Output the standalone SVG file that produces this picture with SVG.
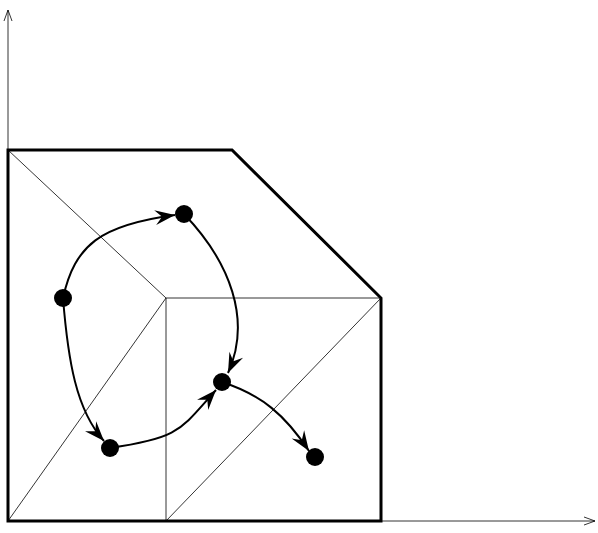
<svg xmlns="http://www.w3.org/2000/svg" width="598" height="533" viewBox="0 0 598 533">
<style>
.thin{fill:none;stroke:#000;stroke-width:0.8}
.thick{fill:none;stroke:#000;stroke-width:3}
.axis{fill:none;stroke:#000;stroke-width:0.8}
.edge{fill:none;stroke:#000;stroke-width:2;marker-end:url(#ah)}
.node{fill:#000}
</style>
<defs>
<marker id="ah" viewBox="-22 -9 24 18" refX="0" refY="0" markerWidth="24" markerHeight="18" markerUnits="userSpaceOnUse" orient="auto">
<path d="M0,0 L-20,-7.5 L-13,0 L-20,7.5 Z" fill="#000"/>
</marker>
<marker id="ax" viewBox="-12 -6 14 12" refX="0" refY="0" markerWidth="14" markerHeight="12" markerUnits="userSpaceOnUse" orient="auto">
<path d="M-11,-4 L0,0 L-11,4" fill="none" stroke="#000" stroke-width="0.8"/>
</marker>
</defs>
<g id="axes">
<line class="axis" x1="8" y1="521" x2="8" y2="10" marker-end="url(#ax)"/>
<line class="axis" x1="8" y1="521" x2="595" y2="521" marker-end="url(#ax)"/>
</g>
<g id="frame">
<line class="thin" x1="8" y1="150" x2="166" y2="298"/>
<line class="thin" x1="166" y1="298" x2="381" y2="298"/>
<line class="thin" x1="166" y1="298" x2="166" y2="521"/>
<line class="thin" x1="166" y1="298" x2="8" y2="521"/>
<line class="thin" x1="381" y1="298" x2="166" y2="521"/>
<polygon class="thick" points="8,150 232,150 381,298 381,521 8,521"/>
</g>
<g id="connectors">
<path class="edge" d="M63,298 C75,245 100,225 175,215"/>
<path class="edge" d="M184,214 C230,262 252,320 228,373"/>
<path class="edge" d="M63,298 C68,360 76,410 104,441"/>
<path class="edge" d="M110,448 C180,438 180,430 216,390"/>
<path class="edge" d="M222,382 C262,395 285,415 309,451"/>
</g>
<g id="n1"><circle class="node" cx="63" cy="298" r="9"/></g>
<g id="n2"><circle class="node" cx="184" cy="214" r="9"/></g>
<g id="n3"><circle class="node" cx="222" cy="382" r="9"/></g>
<g id="n4"><circle class="node" cx="110" cy="448" r="9"/></g>
<g id="n5"><circle class="node" cx="315" cy="457" r="9"/></g>
</svg>
